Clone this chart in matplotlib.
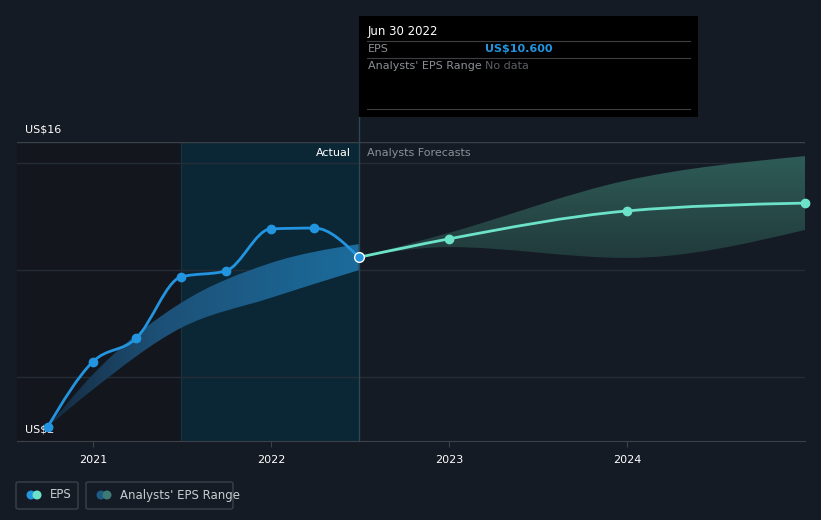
import matplotlib
matplotlib.use("Agg")
import matplotlib.pyplot as plt
import matplotlib.dates as mdates
import numpy as np
from matplotlib.path import Path
from matplotlib.patches import PathPatch, FancyBboxPatch, Rectangle, Ellipse
from matplotlib.colors import LinearSegmentedColormap
from datetime import date

# ------------------- data -------------------
eps_dates = ["2020-09-30", "2020-12-31", "2021-03-31", "2021-06-30",
             "2021-09-30", "2021-12-31", "2022-03-31", "2022-06-30"]
eps_values = [2.66, 5.70, 6.82, 9.68, 9.96, 11.93, 11.97, 10.60]

past_dates = ["2020-09-30", "2020-12-31", "2021-06-30", "2021-12-31", "2022-06-30"]
past_hi = [2.66, 5.10, 8.46, 10.33, 11.22]
past_lo = [2.66, 4.40, 7.29, 8.70, 10.00]

fc_dates = ["2022-06-30", "2022-12-31", "2023-12-31", "2024-12-31"]
fc_values = [10.60, 11.46, 12.77, 13.14]
fc_hi = [10.60, 11.74, 14.20, 15.34]
fc_lo = [10.60, 11.08, 10.57, 11.88]

year_ticks = [2021, 2022, 2023, 2024]
grid_values = [5, 10, 15]

BG = "#151b24"
BLUE = "#2394df"
MINT = "#6ce2c9"


def to_num(ds):
    return np.array([mdates.date2num(np.datetime64(d)) for d in ds])


# monotone cubic (d3 curveMonotoneX) as bezier segments
def tangents(x, y):
    n = len(x)
    h = np.diff(x)
    s = np.diff(y) / h
    t = np.zeros(n)
    for i in range(1, n - 1):
        p = (s[i - 1] * h[i] + s[i] * h[i - 1]) / (h[i - 1] + h[i])
        t[i] = (np.sign(s[i - 1]) + np.sign(s[i])) * min(abs(s[i - 1]), abs(s[i]), 0.5 * abs(p))
    t[0] = (3 * s[0] - t[1]) / 2
    t[-1] = (3 * s[-1] - t[-2]) / 2
    return t


def bezier_verts(x, y, reverse=False):
    y = np.asarray(y, dtype=float)
    t = tangents(x, y)
    segs = []
    for i in range(len(x) - 1):
        dx = (x[i + 1] - x[i]) / 3
        segs.append([(x[i], y[i]), (x[i] + dx, y[i] + dx * t[i]),
                     (x[i + 1] - dx, y[i + 1] - dx * t[i + 1]), (x[i + 1], y[i + 1])])
    verts = []
    if not reverse:
        verts.append(segs[0][0])
        for sg in segs:
            verts += sg[1:]
    else:
        verts.append(segs[-1][3])
        for sg in segs[::-1]:
            verts += [sg[2], sg[1], sg[0]]
    return verts


def curve_path(x, y):
    v = bezier_verts(x, y)
    codes = [Path.MOVETO] + [Path.CURVE4] * (len(v) - 1)
    return Path(v, codes)


def band_path(x, lo, hi):
    v1 = bezier_verts(x, hi)
    v2 = bezier_verts(x, lo, reverse=True)
    codes = ([Path.MOVETO] + [Path.CURVE4] * (len(v1) - 1) + [Path.LINETO]
             + [Path.CURVE4] * (len(v2) - 1) + [Path.CLOSEPOLY])
    return Path(v1 + v2 + [v1[0]], codes)


fig = plt.figure(figsize=(8.21, 5.20), dpi=100, facecolor=BG)
ax = fig.add_axes([17 / 821, 1 - 441 / 520, 788 / 821, 299 / 520])
ax.set_facecolor(BG)

xe = to_num(eps_dates)
xp = to_num(past_dates)
xf = to_num(fc_dates)
x0 = mdates.date2num(np.datetime64("2020-07-29"))
x1 = mdates.date2num(np.datetime64("2024-12-31"))
x_split = mdates.date2num(np.datetime64("2021-06-30"))
ax.set_xlim(x0, x1)
ax.set_ylim(2, 16)

# background regions
ax.axvspan(x0, x_split, color="#13161d", zorder=0, lw=0)
ax.axvspan(x_split, xe[-1], color="#0b2735", zorder=0, lw=0)
ax.axvline(x_split, color="#1a3442", lw=0.8, zorder=0.5)

for g in grid_values:
    ax.axhline(g, color="#262c35", lw=1, zorder=1)
ax.axhline(16, color="#3b4049", lw=1, zorder=1)

# past analyst range, fading in from the left
pb = PathPatch(band_path(xp, past_lo, past_hi), facecolor="none", lw=0, zorder=2)
ax.add_patch(pb)
hgrad = np.linspace(0, 1, 200).reshape(1, -1)
pcmap = LinearSegmentedColormap.from_list("p", [(0, "#162a3e"), (0.35, "#1d5077"), (1, "#1b6c9c")])
pim = ax.imshow(hgrad, extent=[xp[0], xp[-1], 2, 12], cmap=pcmap, aspect="auto", zorder=2)
pim.set_clip_path(pb)

# forecast range with vertical gradient
fb = PathPatch(band_path(xf, fc_lo, fc_hi), facecolor="none", lw=0, zorder=2)
ax.add_patch(fb)
grad = np.linspace(0, 1, 100).reshape(-1, 1)
cmap = LinearSegmentedColormap.from_list("g", ["#203739", "#30605b"])
im = ax.imshow(grad, extent=[xf[0], xf[-1], 10, 16], origin="lower", cmap=cmap,
               aspect="auto", zorder=2)
im.set_clip_path(fb)
ax.set_xlim(x0, x1)
ax.set_ylim(2, 16)

# lines
ax.add_patch(PathPatch(curve_path(xe, eps_values), facecolor="none",
                       edgecolor=BLUE, lw=2.0, zorder=4, capstyle="round"))
ax.add_patch(PathPatch(curve_path(xf, fc_values), facecolor="none",
                       edgecolor=MINT, lw=2.0, zorder=4, capstyle="round"))
ax.plot(xe[:-1], eps_values[:-1], "o", color=BLUE, ms=6, zorder=8, clip_on=False)
ax.plot(xf[1:], fc_values[1:], "o", color=MINT, ms=6, zorder=5, clip_on=False)
ax.plot(xe[-1], eps_values[-1], "o", color=BLUE, mec="white", mew=1.0, ms=7, zorder=6)

# divider line, extended up to tooltip
ax.plot([xe[-1], xe[-1]], [2, 17.16], color="#2a4856", lw=1, zorder=3, clip_on=False)

ax.text(xe[-1] - 8 / 0.4877, 15.5, "Actual", color="white", fontsize=8, ha="right", va="center", zorder=6)
ax.text(xe[-1] + 8 / 0.4877, 15.5, "Analysts Forecasts", color="#8b9097", fontsize=8,
        ha="left", va="center", zorder=6)

# axes styling
for sp in ["top", "right", "left"]:
    ax.spines[sp].set_visible(False)
ax.spines["bottom"].set_color("#3b4049")
ax.set_yticks([])
ax.set_xticks([mdates.date2num(date(y, 1, 1)) for y in year_ticks])
ax.set_xticklabels([str(y) for y in year_ticks])
ax.tick_params(axis="x", colors="#3b4049", length=4, labelcolor="white", labelsize=8, pad=6)

ax.text(8 / 788, (441 - 130) / 299, "US$16", transform=ax.transAxes, color="white",
        fontsize=8, va="center", clip_on=False)
ax.text(8 / 788, (441 - 430) / 299, "US$2", transform=ax.transAxes, color="white",
        fontsize=8, va="center", zorder=7)


# tooltip
def fx(px):
    return px / 821


def fy(py):
    return 1 - py / 520


fig.patches.append(Rectangle((fx(359), fy(117)), 339 / 821, 101 / 520, transform=fig.transFigure,
                             facecolor="black", edgecolor="none", zorder=10))
for ly in [41, 58, 109]:
    fig.lines.append(plt.Line2D([fx(367), fx(690)], [fy(ly), fy(ly)], transform=fig.transFigure,
                                color="#3d3f43", lw=0.8, zorder=11))
fig.text(fx(368), fy(31), "Jun 30 2022", color="white", fontsize=8.5, va="center", zorder=12)
fig.text(fx(368), fy(49), "EPS", color="#8b8f95", fontsize=8, va="center", zorder=12)
fig.text(fx(485), fy(49), "US$10.600", color=BLUE, fontsize=8, va="center", weight="bold", zorder=12)
fig.text(fx(368), fy(66), "Analysts' EPS Range", color="#8b8f95", fontsize=8, va="center", zorder=12)
fig.text(fx(485), fy(66), "No data", color="#5b5e63", fontsize=8, va="center", zorder=12)

# legend
legend_items = [("EPS", 16, 78, BLUE, MINT), ("Analysts' EPS Range", 86, 233, "#1f5a85", "#3d7a73")]
for label, l, r, c1, c2 in legend_items:
    fig.patches.append(FancyBboxPatch((fx(l), fy(509)), (r - l) / 821, 27 / 520,
                                      boxstyle="round,pad=0,rounding_size=0.003",
                                      transform=fig.transFigure, facecolor="none",
                                      edgecolor="#3b4049", lw=1))
    cx = l + 15
    for k, c in enumerate([c1, c2]):
        fig.patches.append(Ellipse((fx(cx + 6 * k), fy(495)), 9 / 821, 9 / 520,
                                   transform=fig.transFigure, facecolor=c, edgecolor="none"))
    fig.text(fx(l + 34), fy(495), label, color="#c9cdd3", fontsize=8.5, va="center")

fig.savefig("out.png", dpi=100, facecolor=BG)
